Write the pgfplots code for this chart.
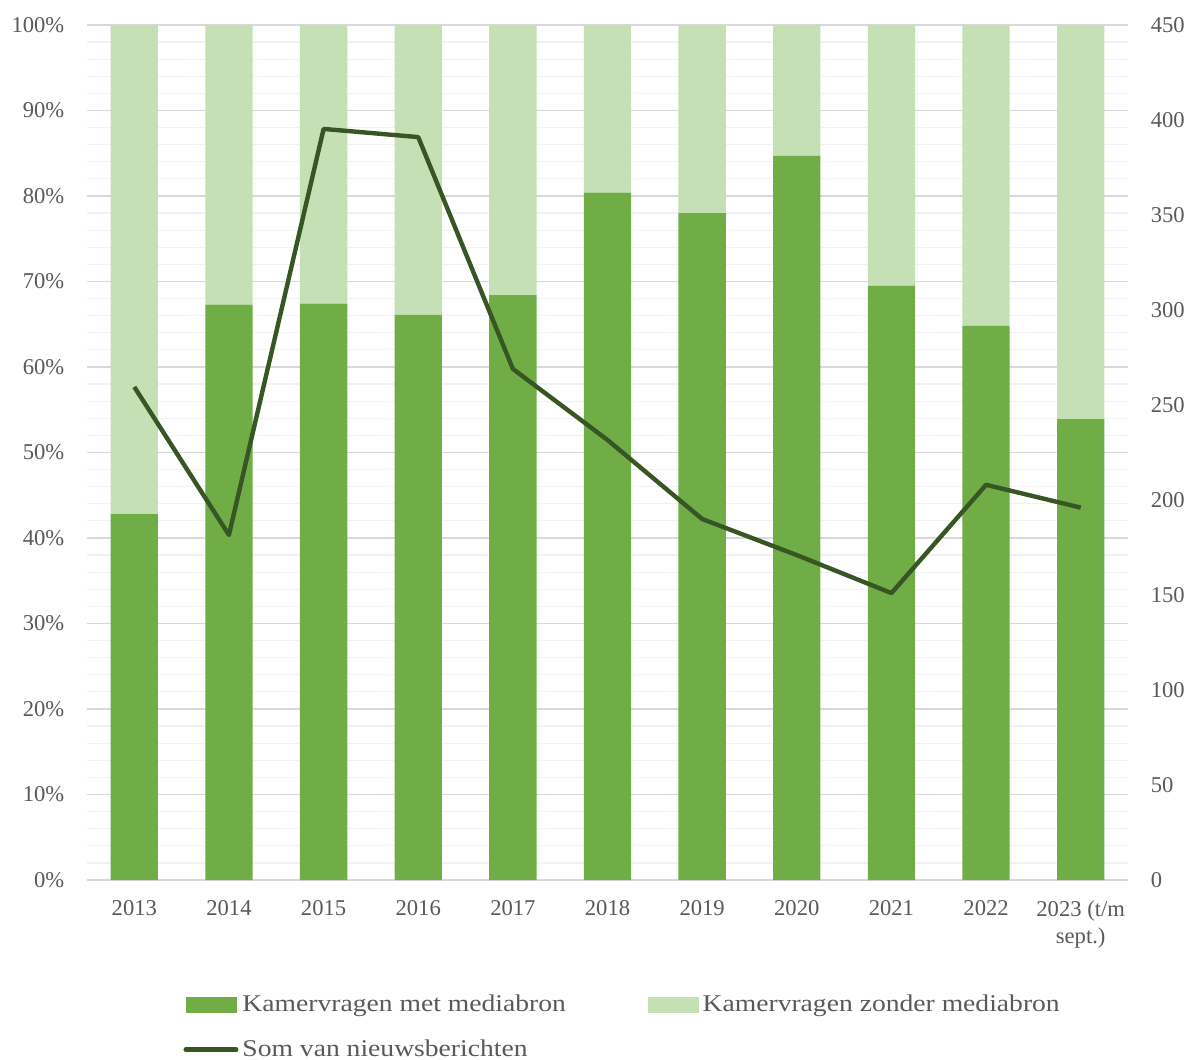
\documentclass[border=0pt]{standalone}
\usepackage{pgfplots}
\pgfplotsset{compat=1.18}
\usepackage{fontspec}
\setmainfont{Liberation Serif}
\newfontfamily\legfont[FakeStretch=1.15]{Liberation Serif}
\definecolor{cdark}{HTML}{70AD47}
\definecolor{clight}{HTML}{C5E0B4}
\definecolor{cline}{HTML}{375623}
\definecolor{ctext}{HTML}{595959}
\definecolor{cmaj}{HTML}{D9D9D9}
\definecolor{cmin}{HTML}{F2F2F2}
\begin{document}
\fontsize{11pt}{13pt}\selectfont
\begin{tikzpicture}
\path[use as bounding box] (-43.5pt,-89.5pt) rectangle (552.5pt,440pt);
\begin{axis}[
  width=520.5pt, height=427.5pt, scale only axis,
  xmin=-0.5, xmax=10.5, ymin=0, ymax=100,
  ybar stacked, bar width=0.5,
  xtick={0,...,10},
  xticklabels={2013,2014,2015,2016,2017,2018,2019,2020,2021,2022,{2023 (t/m\\sept.)}},
  xticklabel style={align=center, text=ctext, font=\fontsize{11.3pt}{13.5pt}\selectfont, yshift=-6.5pt},
  ytick={0,10,...,100},
  minor y tick num=4,
  yticklabel={\pgfmathprintnumber{\tick}\%},
  yticklabel style={text=ctext, font=\fontsize{11.3pt}{13pt}\selectfont, xshift=-7.5pt},
  /pgf/number format/assume math mode=true,
  major tick length=0pt, minor tick length=0pt,
  ymajorgrids, yminorgrids,
  major grid style={cmaj, line width=0.6pt},
  minor grid style={cmin, line width=0.6pt},
  axis line style={draw=none},
]
\addplot[fill=cdark, draw=none] coordinates {
 (0,42.8) (1,67.3) (2,67.4) (3,66.1) (4,68.4) (5,80.4) (6,78.0) (7,84.7) (8,69.5) (9,64.8) (10,53.9)};
\addplot[fill=clight, draw=none] coordinates {
 (0,57.2) (1,32.7) (2,32.6) (3,33.9) (4,31.6) (5,19.6) (6,22.0) (7,15.3) (8,30.5) (9,35.2) (10,46.1)};
\end{axis}
\begin{axis}[
  width=520.5pt, height=427.5pt, scale only axis,
  xmin=-0.5, xmax=10.5, ymin=0, ymax=450,
  hide x axis,
  axis y line*=right,
  ytick={0,50,...,450},
  yticklabel style={text=ctext, font=\fontsize{11.3pt}{13pt}\selectfont, xshift=7.5pt},
  /pgf/number format/assume math mode=true,
  major tick length=0pt,
  y axis line style={draw=none},
  legend columns=2,
  legend cell align=left,
  legend style={at={(0.0865,-0.1245)}, anchor=north west, draw=none, fill=none,
    font=\legfont\fontsize{12pt}{14pt}\selectfont, text=ctext,
    /tikz/every even column/.append style={column sep=39pt},
    row sep=8.5pt},
]
\addlegendimage{legend image code/.code={\fill[cdark] (0pt,-3.75pt) rectangle (25pt,3.75pt);}}
\addlegendentry{Kamervragen met mediabron}
\addlegendimage{legend image code/.code={\fill[clight] (0pt,-3.75pt) rectangle (25pt,3.75pt);}}
\addlegendentry{Kamervragen zonder mediabron}
\addplot[cline, line width=2.2pt, mark=none, line join=round,
  legend image code/.code={\draw[cline, line width=2.5pt, line cap=round] (0pt,0pt) -- (25pt,0pt);}]
  coordinates {(0,259.5) (1,181.6) (2,395.3) (3,391) (4,269) (5,231.6) (6,190) (7,171) (8,151) (9,208) (10,196)};
\addlegendentry{Som van nieuwsberichten}
\end{axis}
\end{tikzpicture}
\end{document}
